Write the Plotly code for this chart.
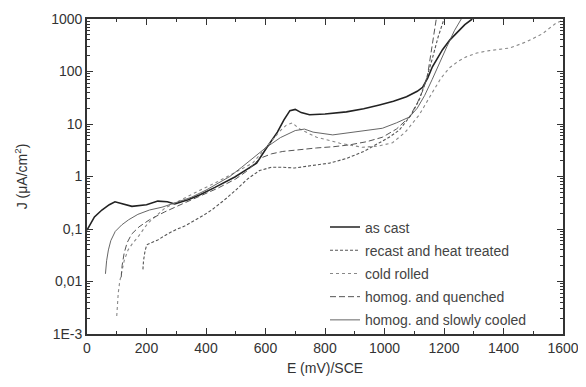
import plotly.graph_objects as go
import numpy as np

# ---- data ----
as_cast_E = [0, 10, 25, 50, 75, 94, 120, 151, 200, 238, 270, 295, 340, 380, 430, 497, 540, 570, 605, 640, 662, 682, 700, 720, 748, 800, 872, 930, 983, 1030, 1074, 1110, 1128, 1145, 1161, 1180, 1195, 1220, 1242, 1270, 1295]
as_cast_J = [0.095, 0.12, 0.17, 0.23, 0.29, 0.33, 0.3, 0.27, 0.29, 0.34, 0.33, 0.3, 0.36, 0.45, 0.62, 0.98, 1.4, 1.8, 3.6, 7, 12, 18, 19, 16.5, 15, 15.5, 17, 19.5, 23, 27, 33, 42, 50, 75, 123, 190, 260, 400, 540, 780, 1000]

recast_E = [188, 190, 195, 201, 220, 238, 270, 295, 330, 352, 390, 419, 460, 500, 540, 580, 620, 660, 698, 750, 815, 872, 930, 983, 1020, 1050, 1090, 1117, 1140, 1160, 1180, 1200]
recast_J = [0.017, 0.025, 0.038, 0.05, 0.056, 0.062, 0.08, 0.095, 0.115, 0.135, 0.18, 0.23, 0.35, 0.55, 0.9, 1.3, 1.5, 1.5, 1.45, 1.6, 1.8, 2.2, 3.0, 4.4, 5.8, 7.7, 15, 29, 70, 170, 450, 1000]

cold_E = [100, 102, 105, 110, 117, 125, 138, 155, 171, 205, 262, 330, 380, 430, 470, 510, 557, 590, 624, 650, 670, 690, 715, 772, 850, 926, 980, 1027, 1070, 1117, 1161, 1190, 1218, 1250, 1275, 1310, 1352, 1420, 1476, 1530, 1577, 1600]
cold_J = [0.0022, 0.0035, 0.006, 0.01, 0.0145, 0.025, 0.04, 0.055, 0.07, 0.13, 0.25, 0.4, 0.55, 0.75, 1.0, 1.3, 1.8, 3, 5, 7.5, 9.5, 10.5, 8, 5.6, 4.3, 3.6, 3.8, 4.4, 7, 15, 40, 75, 117, 160, 190, 225, 250, 280, 365, 520, 840, 950]

quench_E = [115, 118, 125, 135, 150, 175, 210, 260, 320, 380, 440, 500, 540, 580, 620, 658, 700, 772, 830, 882, 940, 993, 1040, 1084, 1110, 1130, 1144, 1155, 1165, 1174]
quench_J = [0.012, 0.02, 0.035, 0.055, 0.08, 0.11, 0.15, 0.21, 0.3, 0.42, 0.6, 0.9, 1.3, 2.2, 2.7, 3.0, 3.2, 3.5, 3.7, 4.0, 4.6, 5.6, 8, 13.6, 25, 45, 80, 200, 450, 1000]

slow_E = [62, 66, 72, 80, 95, 117, 140, 171, 210, 252, 300, 350, 400, 450, 480, 520, 560, 600, 650, 700, 731, 760, 826, 900, 993, 1040, 1084, 1110, 1135, 1160, 1185, 1210, 1235, 1258]
slow_J = [0.014, 0.025, 0.04, 0.06, 0.09, 0.12, 0.15, 0.19, 0.23, 0.26, 0.32, 0.4, 0.55, 0.8, 1.0, 1.5, 2.3, 3.5, 5.5, 7.5, 8, 7, 6.2, 7, 8.3, 10.5, 13.6, 20, 35, 70, 150, 300, 600, 1000]

series_names = ["as cast", "recast and heat treated", "cold rolled",
                "homog. and quenched", "homog. and slowly cooled"]

y_tickvals = [0.001, 0.01, 0.1, 1, 10, 100, 1000]
y_ticktext = ["1E-3", "0,01", "0,1", "1", "10", "100", "1000"]
x_tickvals = [0, 200, 400, 600, 800, 1000, 1200, 1400, 1600]

styles = [
    dict(color="#222222", width=1.6, dash="solid"),
    dict(color="#555555", width=1.1, dash="3px,2px"),
    dict(color="#888888", width=1.1, dash="dot"),
    dict(color="#555555", width=1.0, dash="6px,3px"),
    dict(color="#555555", width=0.9, dash="solid"),
]
data = [(as_cast_E, as_cast_J), (recast_E, recast_J), (cold_E, cold_J),
        (quench_E, quench_J), (slow_E, slow_J)]

fig = go.Figure()
for i, ((e, j), name, st) in enumerate(zip(data, series_names, styles)):
    fig.add_trace(go.Scatter(x=e, y=j, mode="lines", name=name, line=st,
                             legendgroup=f"g{i}"))

minor_y = [m * 10.0 ** k for k in range(-3, 3) for m in range(2, 10)]

fig.update_layout(
    width=578, height=379,
    margin=dict(l=79, r=23, t=11, b=53),
    paper_bgcolor="white", plot_bgcolor="white",
    font=dict(family="Liberation Sans, Arial, sans-serif", size=14, color="#333"),
    showlegend=True,
    legend=dict(x=0.50, y=0.389, xanchor="left", yanchor="top",
                bgcolor="rgba(0,0,0,0)", borderwidth=0,
                font=dict(size=14, color="#444"),
                traceorder="grouped", tracegroupgap=2),
    xaxis=dict(range=[0, 1600], tickvals=x_tickvals, ticks="inside", ticklen=6,
               tickwidth=1.2, tickcolor="#333", showline=True, linecolor="#333",
               linewidth=1.8, mirror="allticks", showgrid=False, zeroline=False,
               automargin=False,
               minor=dict(tickvals=[100, 300, 500, 700, 900, 1100, 1300, 1500],
                          ticks="inside", ticklen=3, tickcolor="#333"),
               title=dict(text="E (mV)/SCE", font=dict(size=14), standoff=8),
               tickfont=dict(size=14)),
    yaxis=dict(type="log", range=[-3, 3], tickvals=y_tickvals, ticktext=y_ticktext,
               ticks="inside", ticklen=6, tickwidth=1.2, tickcolor="#333",
               showline=True, linecolor="#333", linewidth=1.8, mirror="allticks",
               showgrid=False, zeroline=False, automargin=False,
               minor=dict(tickvals=minor_y, ticks="inside", ticklen=3, tickcolor="#333"),
               title=dict(text="J (μA/cm<sup>2</sup>)", font=dict(size=14), standoff=20),
               tickfont=dict(size=14)),
)

fig.write_html("out.html")
